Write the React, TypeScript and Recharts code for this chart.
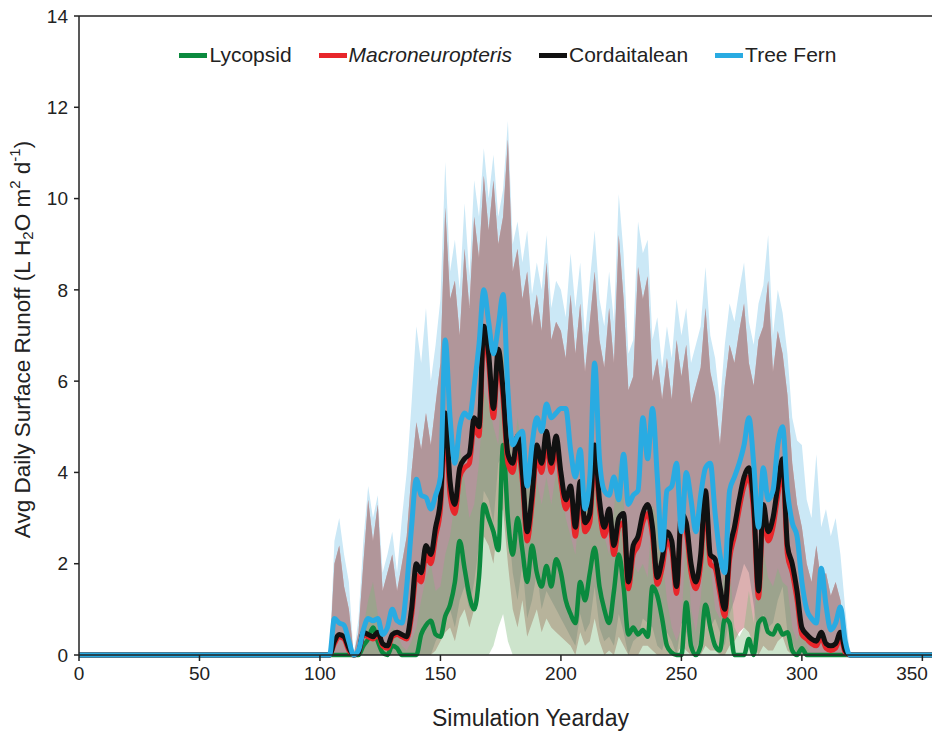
import { ComposedChart, Area, Line, XAxis, YAxis, ReferenceLine } from 'recharts'

// daily means and spread, sampled every 2 days from day 104 to day 324
const FIRST_DAY = 104
const STEP = 2
const END_DAY = 354

const lycopsid = [
  0, 0, 0, 0, 0, 0, 0, 0.2, 0.35, 0.6,
  0.3, 0.05, 0, 0.2, 0.15, 0, 0, 0, 0, 0.45,
  0.65, 0.75, 0.45, 0.4, 0.85, 1.1, 1.6, 2.5, 1.9, 1.3,
  1.0, 1.7, 3.3, 3.0, 2.7, 2.3, 4.6, 3.0, 2.2, 3.0,
  2.3, 1.6, 2.4, 1.8, 1.5, 1.95, 1.5, 2.1, 1.8, 1.2,
  0.9, 0.7, 1.6, 1.2, 1.8, 2.35, 1.5, 1.0, 0.7, 1.4,
  2.2, 1.5, 0.45, 0.6, 0.45, 0.55, 0.4, 1.5, 1.3, 0.8,
  0.2, 0.05, 0, 0, 1.15, 0.2, 0, 0.2, 1.1, 0.6,
  0.2, 0.1, 0.8, 0.7, 0, 0, 0, 0.35, 0, 0.7,
  0.8, 0.5, 0.45, 0.65, 0.45, 0.5, 0.1, 0, 0.15, 0,
  0, 0, 0, 0, 0, 0, 0, 0, 0, 0,
  0,
]
const lycopsidLo = [
  0, 0, 0, 0, 0, 0, 0, 0, 0, 0,
  0, 0, 0, 0, 0, 0, 0, 0, 0, 0,
  0, 0, 0, 0, 0, 0, 0, 0, 0, 0,
  0, 0, 0, 0, 0.2, 0.6, 0.9, 0.3, 0, 0,
  0, 0, 0, 0, 0, 0, 0, 0, 0, 0,
  0, 0, 0, 0, 0, 0, 0, 0, 0, 0,
  0, 0, 0, 0, 0, 0, 0, 0, 0, 0,
  0, 0, 0, 0, 0, 0, 0, 0, 0, 0,
  0, 0, 0, 0, 0, 0, 0, 0, 0, 0,
  0, 0, 0, 0, 0, 0, 0, 0, 0, 0,
  0, 0, 0, 0, 0, 0, 0, 0, 0, 0,
  0,
]
const lycopsidHi = [
  0, 0, 0, 0, 0, 0, 0, 0.6, 1.2, 1.6,
  0.9, 0.3, 0.2, 0.6, 0.5, 0.2, 0.1, 0.3, 0.6, 1.2,
  1.7, 2.0, 1.4, 1.5, 2.2, 2.6, 3.4, 4.6, 3.8, 3.0,
  3.3, 4.2, 5.8, 5.5, 5.0, 4.6, 6.8, 5.4, 4.2, 5.2,
  4.4, 3.6, 4.3, 3.8, 3.3, 3.9, 3.3, 4.0, 3.7, 3.0,
  2.6, 2.2, 3.5, 3.0, 3.7, 4.5, 3.4, 2.6, 2.2, 3.2,
  4.2, 3.4, 1.7, 2.0, 1.8, 2.0, 1.7, 3.3, 3.0, 2.2,
  1.2, 0.6, 0.3, 0.6, 2.8, 1.0, 0.5, 1.2, 2.8, 2.0,
  1.0, 0.8, 2.2, 2.0, 0.6, 0.4, 0.6, 1.4, 0.7, 2.0,
  2.3, 1.7, 1.5, 1.9, 1.6, 1.5, 0.6, 0.3, 0.7, 0.2,
  0, 0, 0, 0, 0, 0, 0, 0, 0, 0,
  0,
]

const macroneuropteris = [
  0, 0.25, 0.4, 0.35, 0.1, 0, 0.05, 0.45, 0.4, 0.35,
  0.45, 0.2, 0.15, 0.4, 0.45, 0.4, 0.35, 0.85, 1.75, 1.6,
  2.2, 2.0, 2.6, 3.2, 5.0, 3.5, 3.1, 3.9, 4.1, 4.2,
  5.0, 4.8, 7.0, 6.4, 5.2, 6.5, 5.6, 4.2, 4.0, 4.6,
  3.8, 2.5, 3.3, 4.4, 4.0, 4.7, 4.0, 4.6, 3.8, 3.2,
  3.5, 2.6, 3.6, 2.7, 2.9, 4.4, 3.2, 2.6, 3.0, 2.2,
  2.8, 2.9, 1.45, 2.2, 2.4, 2.9, 3.1, 2.6, 1.55, 1.9,
  2.5, 2.3, 1.35, 2.9, 2.7, 1.8, 1.45, 2.0, 3.4, 2.0,
  1.9, 1.35, 0.85, 2.1, 2.6, 3.2, 3.7, 3.9, 3.1, 1.25,
  3.1, 2.5, 2.8, 3.5, 4.1, 2.2, 1.8, 1.2, 0.45, 0.35,
  0.25, 0.2, 0.4, 0.15, 0.1, 0.15, 0.4, 0.05, 0, 0,
  0,
]
const macroneuropterisLo = [
  0, 0, 0, 0, 0, 0, 0, 0, 0, 0,
  0, 0, 0, 0, 0, 0, 0, 0, 0, 0,
  0, 0, 0.1, 0.3, 0.5, 0.6, 0.3, 0.8, 1.0, 0.6,
  1.0, 1.6, 2.6, 2.4, 2.0, 3.0, 3.2, 2.0, 1.0, 0.6,
  1.2, 0.4, 0.7, 1.0, 0.5, 0.8, 0.6, 0.5, 0.4, 0.3,
  0.2, 0, 0.5, 0.2, 0.3, 0.8, 0.3, 0, 0.1, 0,
  0.4, 0.2, 0, 0, 0, 0.2, 0.2, 0.1, 0, 0,
  0, 0, 0, 0.2, 0.1, 0, 0, 0, 0.2, 0.1,
  0.1, 0, 0, 0.2, 0.3, 0.5, 0.6, 0.5, 0.2, 0,
  0.2, 0.1, 0.1, 0.3, 0.4, 0.1, 0, 0, 0, 0,
  0, 0, 0, 0, 0, 0, 0, 0, 0, 0,
  0,
]

const cordaitalean = [
  0, 0.3, 0.45, 0.4, 0.15, 0, 0.05, 0.5, 0.45, 0.4,
  0.5, 0.25, 0.2, 0.45, 0.5, 0.45, 0.4, 1.0, 2.0, 1.8,
  2.4, 2.2, 2.8, 3.4, 5.3, 3.8, 3.3, 4.1, 4.3, 4.4,
  5.2, 5.0, 7.2, 6.6, 5.4, 6.7, 5.8, 4.4, 4.2, 4.8,
  4.0, 2.7, 3.5, 4.6, 4.2, 4.9, 4.2, 4.8, 4.0, 3.4,
  3.7, 2.8, 3.8, 2.9, 3.1, 4.6, 3.4, 2.8, 3.2, 2.4,
  3.0, 3.1, 1.6, 2.4, 2.6, 3.1, 3.3, 2.8, 1.7, 2.1,
  2.7, 2.5, 1.5, 3.1, 2.9, 2.0, 1.6, 2.2, 3.6, 2.2,
  2.1, 1.5, 1.0, 2.3, 2.8, 3.4, 3.9, 4.1, 3.3, 1.4,
  3.3, 2.7, 3.0, 3.7, 4.3, 2.4, 2.0, 1.4, 0.6, 0.45,
  0.35, 0.3, 0.5, 0.25, 0.2, 0.25, 0.5, 0.1, 0, 0,
  0,
]
const cordaitaleanLo = [
  0, 0, 0, 0, 0, 0, 0, 0, 0, 0,
  0, 0, 0, 0, 0, 0, 0, 0, 0, 0,
  0, 0, 0.3, 0.5, 0.8, 1.0, 0.6, 1.2, 1.5, 1.0,
  1.6, 2.4, 3.6, 3.4, 2.9, 4.2, 4.4, 3.0, 1.8, 1.2,
  2.0, 0.8, 1.2, 1.8, 1.0, 1.4, 1.2, 1.0, 0.8, 0.6,
  0.4, 0.2, 0.9, 0.5, 0.7, 1.5, 0.6, 0.3, 0.4, 0.2,
  0.9, 0.5, 0, 0.3, 0.4, 0.8, 0.7, 0.6, 0.2, 0.1,
  0.5, 0.3, 0, 0.7, 0.5, 0.2, 0.1, 0.4, 0.9, 0.6,
  0.8, 0.5, 0.2, 0.9, 1.2, 1.6, 2.0, 1.8, 1.1, 0.3,
  0.9, 0.6, 0.7, 1.2, 1.5, 0.5, 0.3, 0, 0, 0,
  0, 0, 0, 0, 0, 0, 0, 0, 0, 0,
  0,
]
const cordaitaleanHi = [
  0, 2.0, 2.4, 1.5, 1.0, 0, 0.5, 2.0, 3.4, 2.5,
  3.3, 1.4, 1.8, 2.2, 1.4, 2.0, 2.6, 4.0, 5.1, 4.5,
  5.3, 4.6, 5.5, 6.4, 9.8, 7.8, 8.2, 7.0, 8.9, 7.6,
  9.6, 8.7, 10.5, 9.3, 10.4, 9.0, 9.6, 11.3, 8.4, 8.9,
  7.8, 8.4, 7.2, 7.9, 7.1, 8.6, 6.9, 7.3, 7.1, 6.5,
  7.9, 6.6, 7.7, 6.2, 7.3, 8.4, 6.9, 6.3, 7.6, 6.4,
  9.2, 7.8, 5.8, 6.1, 8.5, 7.8, 8.3, 6.0, 6.5, 5.6,
  6.5, 5.6, 6.9, 6.1, 6.8, 5.5, 5.9, 6.3, 7.6, 6.2,
  5.7, 4.6, 5.9, 6.8, 6.4, 7.1, 7.7, 6.4, 5.9, 6.9,
  7.2, 8.2, 6.2, 7.1, 6.6, 5.7, 4.2, 3.3, 2.8, 2.0,
  1.6, 2.4, 1.6, 1.8, 1.3, 1.6, 1.2, 0.4, 0, 0,
  0,
]

const treeFern = [
  0, 0.8, 0.7, 0.65, 0.3, 0, 0.1, 0.55, 0.8, 0.75,
  0.8, 0.45, 0.6, 1.0, 0.75, 0.7, 1.5, 2.8, 3.85, 3.5,
  3.45, 3.2, 3.5, 3.9, 6.9, 5.2, 4.2, 5.0, 5.3, 5.2,
  5.9, 6.8, 8.0, 7.3, 6.6, 7.2, 7.9, 5.8, 4.6, 4.8,
  4.9, 3.7, 4.6, 5.2, 4.9, 5.5, 5.2, 5.3, 5.4, 5.4,
  4.5, 3.9, 4.5, 3.2, 3.9, 6.4, 4.3, 3.6, 3.5, 3.9,
  3.4, 4.4, 3.3, 3.5, 3.6, 5.2, 4.3, 5.4, 3.9, 2.3,
  3.6, 3.7, 4.2, 2.7, 4.0, 3.4, 2.7, 3.5, 4.1, 4.2,
  3.1, 2.2, 1.8, 3.6, 3.9, 4.2, 4.6, 5.2, 4.2, 2.8,
  4.1, 3.4, 3.6, 4.6, 5.0, 3.6, 2.9, 2.6, 1.6, 1.0,
  0.8, 0.7, 1.9, 1.1, 0.55, 0.7, 1.05, 0.3, 0, 0,
  0,
]
const treeFernHi = [
  0, 2.5, 3.0, 2.2, 1.6, 0, 0.8, 2.5, 3.7, 3.0,
  3.5, 1.8, 2.2, 2.7, 1.8, 3.0, 4.0, 5.5, 7.2, 6.4,
  7.6, 6.0, 6.8, 7.8, 10.8, 8.4, 9.1, 8.0, 9.9, 8.3,
  10.4, 9.6, 11.1, 10.0, 10.96, 9.6, 10.2, 11.7, 9.0, 9.5,
  8.6, 9.3, 7.9, 8.6, 8.0, 9.2, 7.6, 8.2, 8.0, 7.4,
  8.8, 7.6, 8.6, 7.0, 8.2, 9.3, 7.8, 7.2, 8.4, 7.3,
  10.1, 8.8, 6.6, 6.9, 9.5, 8.8, 9.1, 6.9, 7.4, 6.3,
  7.2, 6.5, 7.8, 7.0, 7.6, 6.4, 6.8, 7.2, 8.5, 7.0,
  6.5, 5.5, 6.8, 7.7, 7.3, 8.0, 8.6, 7.3, 6.8, 7.7,
  8.1, 9.2, 7.0, 8.0, 7.5, 6.6, 5.2, 4.7, 4.6, 3.4,
  3.0, 4.4, 2.8, 3.2, 2.6, 3.0, 2.2, 1.0, 0, 0,
  0,
]

const xTicks = [0, 50, 100, 150, 200, 250, 300, 350]
const yTicks = [0, 2, 4, 6, 8, 10, 12, 14]

const legendItems = [
  { name: 'Lycopsid', color: '#0b8a3e', italic: false },
  { name: 'Macroneuropteris', color: '#e8262b', italic: true },
  { name: 'Cordaitalean', color: '#111111', italic: false },
  { name: 'Tree Fern', color: '#29abe2', italic: false },
]

const FONT = '"Liberation Sans", Arial, sans-serif'

const zeroRow = (day: number) => ({
  day, ly: 0, ma: 0, co: 0, tf: 0,
  lyBand: [0, 0], maBand: [0, 0], coBand: [0, 0], tfBand: [0, 0],
})

const data = [
  zeroRow(0),
  ...lycopsid.map((_, i) => ({
    day: FIRST_DAY + i * STEP,
    ly: lycopsid[i],
    ma: macroneuropteris[i],
    co: cordaitalean[i],
    tf: treeFern[i],
    lyBand: [lycopsidLo[i], lycopsidHi[i]],
    maBand: [macroneuropterisLo[i], cordaitaleanHi[i]],
    coBand: [cordaitaleanLo[i], cordaitaleanHi[i]],
    tfBand: [cordaitaleanLo[i], treeFernHi[i]],
  })),
  zeroRow(END_DAY),
]

// last label sits against the right edge, so nudge it left a bit
const XTick = ({ x, y, payload }: any) => (
  <text
    x={payload.value === 350 ? x - 8 : x}
    y={y}
    dy="0.71em"
    textAnchor="middle"
    fontFamily={FONT}
    fontSize={19}
    fill="#222"
  >
    {payload.value}
  </text>
)

const YTitle = ({ viewBox }: any) => {
  const cx = viewBox.x + 22
  const cy = viewBox.y + viewBox.height / 2 + 4
  return (
    <text
      x={cx}
      y={cy}
      transform={`rotate(-90, ${cx}, ${cy})`}
      textAnchor="middle"
      dominantBaseline="central"
      fontFamily={FONT}
      fontSize={22.5}
      fill="#222"
    >
      Avg Daily Surface Runoff (L H
      <tspan dy={5} fontSize={15}>2</tspan>
      <tspan dy={-5}>O m</tspan>
      <tspan dy={-8} fontSize={15}>2</tspan>
      <tspan dy={8}> d</tspan>
      <tspan dy={-8} fontSize={15}>-1</tspan>
      <tspan dy={8}>)</tspan>
    </text>
  )
}

const XTitle = ({ viewBox }: any) => (
  <text
    x={viewBox.x + viewBox.width / 2 + 25}
    y={viewBox.y + 71}
    textAnchor="middle"
    fontFamily={FONT}
    fontSize={23}
    fill="#222"
  >
    Simulation Yearday
  </text>
)

export default function App() {
  return (
    <div style={{ position: 'absolute', left: 0, top: 0, width: 932, height: 733, background: '#fff' }}>
      <ComposedChart
        width={932}
        height={733}
        data={data}
        margin={{ top: 16, right: 0, bottom: 0, left: 0 }}
      >
        <XAxis
          dataKey="day"
          type="number"
          domain={[0, END_DAY]}
          ticks={xTicks}
          height={78}
          allowDataOverflow
          stroke="#222"
          strokeWidth={1.5}
          tickSize={6}
          tickMargin={6}
          tick={<XTick />}
          label={<XTitle />}
        />
        <YAxis
          type="number"
          domain={[0, 14]}
          ticks={yTicks}
          width={79}
          stroke="#222"
          strokeWidth={1.5}
          tickSize={5}
          tickMargin={6}
          tick={{ fontSize: 19, fill: '#222', fontFamily: FONT }}
          label={<YTitle />}
        />
        <ReferenceLine y={14} stroke="#222" strokeWidth={1.5} />

        <Area dataKey="tfBand" type="linear" stroke="none" fill="#cbe8f6" fillOpacity={1} isAnimationActive={false} />
        <Area dataKey="maBand" type="linear" stroke="none" fill="#dcb0b0" fillOpacity={1} isAnimationActive={false} />
        <Area dataKey="coBand" type="linear" stroke="none" fill="#b1969a" fillOpacity={1} isAnimationActive={false} />
        <Area dataKey="lyBand" type="linear" stroke="none" fill="#7cb87a" fillOpacity={0.38} isAnimationActive={false} />

        <Line dataKey="ly" type="monotone" stroke="#0b8a3e" strokeWidth={4.5} dot={false} isAnimationActive={false} />
        <Line dataKey="ma" type="monotone" stroke="#e8262b" strokeWidth={5} dot={false} isAnimationActive={false} />
        <Line dataKey="co" type="monotone" stroke="#111111" strokeWidth={5} dot={false} isAnimationActive={false} />
        <Line dataKey="tf" type="monotone" stroke="#29abe2" strokeWidth={5} dot={false} isAnimationActive={false} />
      </ComposedChart>

      <div
        style={{
          position: 'absolute',
          top: 43,
          left: 0,
          width: 1016,
          display: 'flex',
          justifyContent: 'center',
          gap: 27,
          fontFamily: FONT,
          fontSize: 21,
          color: '#222',
          lineHeight: '24px',
        }}
      >
        {legendItems.map((it) => (
          <div key={it.name} style={{ display: 'flex', alignItems: 'center' }}>
            <span style={{ display: 'inline-block', width: 28, height: 5, background: it.color, marginRight: 2 }} />
            <span style={{ fontStyle: it.italic ? 'italic' : 'normal' }}>{it.name}</span>
          </div>
        ))}
      </div>
    </div>
  )
}
